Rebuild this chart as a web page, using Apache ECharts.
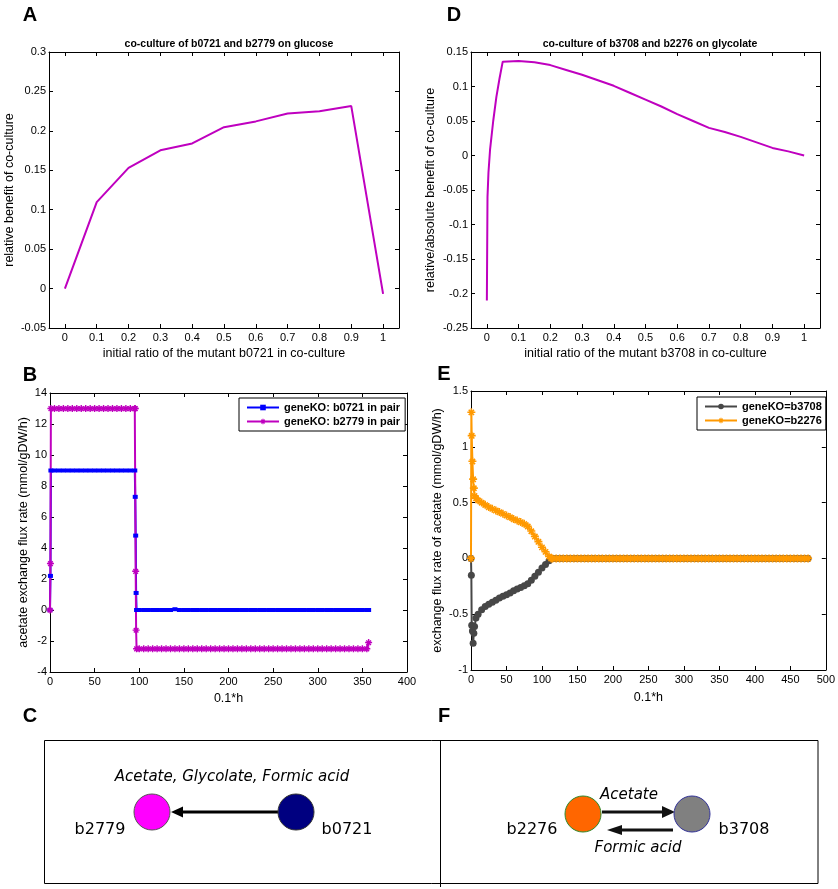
<!DOCTYPE html>
<html lang="en">
<head>
<meta charset="UTF-8">
<title>co-culture benefit and acetate exchange</title>
<script src="https://cdn.jsdelivr.net/npm/echarts@6/dist/echarts.min.js"></script>
<style>
  html, body { margin: 0; padding: 0; background: #fff; }
  #chart { width: 838px; height: 889px; }
</style>
</head>
<body>
<div id="chart"></div>
<script>
// ---- panel A: b0721 / b2779 on glucose ----
const aRatio = [0, 0.1, 0.2, 0.3, 0.4, 0.5, 0.6, 0.7, 0.8, 0.9, 1];
const aBenefit = [0, 0.1097, 0.153, 0.1754, 0.184, 0.2047, 0.212, 0.222, 0.225, 0.2314, -0.0068];

// ---- panel D: b3708 / b2276 on glycolate ----
const dRatio = [0, 0.002, 0.005, 0.01, 0.02, 0.03, 0.04, 0.05, 0.1, 0.15, 0.2, 0.25, 0.3, 0.35,
  0.4, 0.45, 0.5, 0.55, 0.6, 0.65, 0.7, 0.75, 0.8, 0.85, 0.9, 0.95, 1];
const dBenefit = [-0.21, -0.06, -0.025, 0.008, 0.05, 0.085, 0.112, 0.136, 0.137, 0.135, 0.131, 0.124,
  0.117, 0.109, 0.101, 0.091, 0.081, 0.071, 0.060, 0.050, 0.040, 0.034, 0.027, 0.019, 0.011, 0.006, 0];

const ratioTicks = [0, 0.1, 0.2, 0.3, 0.4, 0.5, 0.6, 0.7, 0.8, 0.9, 1];

// ---- panel B: acetate exchange, glucose pair ----
const bTime = [0, 0.5, 1, 5, 10, 15, 20, 25, 30, 35, 40, 45, 50, 55, 60, 65, 70, 75, 80, 85, 90, 95,
  95.5, 96, 96.5, 97,
  100, 105, 110, 115, 120, 125, 130, 135, 140, 145, 150, 155, 160, 165, 170, 175, 180, 185, 190, 195,
  200, 205, 210, 215, 220, 225, 230, 235, 240, 245, 250, 255, 260, 265, 270, 275, 280, 285, 290, 295,
  300, 305, 310, 315, 320, 325, 330, 335, 340, 345, 350, 355, 357];
const bB0721 = [0, 2.2, 9,
  9, 9, 9, 9, 9, 9, 9, 9, 9, 9, 9, 9, 9, 9, 9, 9, 9, 9, 9,
  7.3, 4.8, 1.1, 0,
  0, 0, 0, 0, 0, 0, 0, 0, 0.05, 0, 0, 0, 0, 0, 0, 0, 0, 0, 0, 0,
  0, 0, 0, 0, 0, 0, 0, 0, 0, 0, 0, 0, 0, 0, 0, 0, 0, 0, 0, 0,
  0, 0, 0, 0, 0, 0, 0, 0, 0, 0, 0, 0,
  0];
const bB2779 = [0, 3, 13,
  13, 13, 13, 13, 13, 13, 13, 13, 13, 13, 13, 13, 13, 13, 13, 13, 13, 13, 13,
  13, 2.5, -1.3, -2.5,
  -2.5, -2.5, -2.5, -2.5, -2.5, -2.5, -2.5, -2.5, -2.5, -2.5, -2.5, -2.5, -2.5, -2.5, -2.5, -2.5, -2.5, -2.5, -2.5, -2.5,
  -2.5, -2.5, -2.5, -2.5, -2.5, -2.5, -2.5, -2.5, -2.5, -2.5, -2.5, -2.5, -2.5, -2.5, -2.5, -2.5, -2.5, -2.5, -2.5, -2.5,
  -2.5, -2.5, -2.5, -2.5, -2.5, -2.5, -2.5, -2.5, -2.5, -2.5, -2.5, -2.5,
  -2.1];

// ---- panel E: acetate exchange, glycolate pair ----
const eTime = [0, 0.5, 1, 2, 3, 4, 5, 7,
  10, 15, 20, 25, 30, 35, 40, 45, 50, 55, 60, 65, 70, 75, 80, 85, 90, 95, 100, 105, 110,
  113,
  115, 120, 125, 130, 135, 140, 145, 150, 155, 160, 165, 170, 175, 180, 185, 190, 195,
  200, 205, 210, 215, 220, 225, 230, 235, 240, 245, 250, 255, 260, 265, 270, 275, 280, 285, 290, 295,
  300, 305, 310, 315, 320, 325, 330, 335, 340, 345, 350, 355, 360, 365, 370, 375, 380, 385, 390, 395,
  400, 405, 410, 415, 420, 425, 430, 435, 440, 445, 450, 455, 460, 465, 470, 475];
const eB3708 = [0, -0.15, -0.6, -0.65, -0.76, -0.67, -0.61, -0.535,
  -0.5, -0.46, -0.43, -0.41, -0.394, -0.375, -0.355, -0.34, -0.326, -0.31, -0.29, -0.275, -0.26,
  -0.245, -0.227, -0.195, -0.16, -0.125, -0.087, -0.055, -0.02,
  0,
  0, 0, 0, 0, 0, 0, 0, 0, 0, 0, 0, 0, 0, 0, 0, 0, 0,
  0, 0, 0, 0, 0, 0, 0, 0, 0, 0, 0, 0, 0, 0, 0, 0, 0, 0, 0, 0,
  0, 0, 0, 0, 0, 0, 0, 0, 0, 0, 0, 0, 0, 0, 0, 0, 0, 0, 0, 0,
  0, 0, 0, 0, 0, 0, 0, 0, 0, 0, 0, 0, 0, 0, 0, 0];
const eB2276 = [0, 1.31, 1.1, 0.87, 0.71, 0.63, 0.56, 0.54,
  0.52, 0.5, 0.48, 0.46, 0.445, 0.43, 0.415, 0.4, 0.385, 0.37, 0.352, 0.34, 0.326,
  0.31, 0.287, 0.245, 0.197, 0.15, 0.1, 0.06, 0.018,
  0,
  0, 0, 0, 0, 0, 0, 0, 0, 0, 0, 0, 0, 0, 0, 0, 0, 0,
  0, 0, 0, 0, 0, 0, 0, 0, 0, 0, 0, 0, 0, 0, 0, 0, 0, 0, 0, 0,
  0, 0, 0, 0, 0, 0, 0, 0, 0, 0, 0, 0, 0, 0, 0, 0, 0, 0, 0, 0,
  0, 0, 0, 0, 0, 0, 0, 0, 0, 0, 0, 0, 0, 0, 0, 0];

const FONT = '"Liberation Sans", Arial, Helvetica, sans-serif';
const DIAG_FONT = '"DejaVu Sans", Verdana, sans-serif';
// matlab '*' marker
const STAR = 'path://M0,4L10,4L10,6L0,6Z M4,0L6,0L6,10L4,10Z M1,2.6L2.4,1.2L9,7.8L7.6,9.2Z M7.6,1.2L9,2.6L2.4,9.2L1,7.8Z';

function pairs(xs, ys) {
    return xs.map((x, i) => [x, ys[i]]);
}

function tickStyle(values) {
    let t = { show: true, inside: true, length: 4, lineStyle: { color: '#000', width: 1 } };
    if (values) t.customValues = values;
    return t;
}

// bottom axis with labels + top axis with ticks only (matlab box)
function xAxes(gi, o) {
    let base = {
        type: 'value', gridIndex: gi, min: o.min, max: o.max, interval: o.interval,
        axisLine: { show: true, onZero: false, lineStyle: { color: '#000', width: 1 } },
        axisTick: tickStyle(o.ticks),
        splitLine: { show: false }
    };
    let bottom = Object.assign({}, base, {
        position: 'bottom',
        name: o.name, nameLocation: 'middle', nameGap: o.nameGap,
        nameTextStyle: { fontSize: 12.5, color: '#000', fontFamily: FONT },
        axisLabel: { show: true, margin: 4, fontSize: 11, color: '#000', fontFamily: FONT, customValues: o.ticks }
    });
    let top = Object.assign({}, base, { position: 'top', axisLabel: { show: false } });
    return [bottom, top];
}

function yAxes(gi, o) {
    let base = {
        type: 'value', gridIndex: gi, min: o.min, max: o.max, interval: o.interval,
        axisLine: { show: true, onZero: false, lineStyle: { color: '#000', width: 1 } },
        axisTick: tickStyle(),
        splitLine: { show: false }
    };
    let left = Object.assign({}, base, {
        position: 'left',
        name: o.name, nameLocation: 'middle', nameGap: o.nameGap,
        nameTextStyle: { fontSize: 12.5, color: '#000', fontFamily: FONT },
        axisLabel: { show: true, margin: 3, fontSize: 11, color: '#000', fontFamily: FONT }
    });
    let right = Object.assign({}, base, { position: 'right', axisLabel: { show: false } });
    return [left, right];
}

function letter(t, x, y) {
    return {
        type: 'text', silent: true,
        style: { text: t, x: x, y: y, fill: '#000', fontSize: 20, fontWeight: 'bold', fontFamily: FONT, align: 'center', verticalAlign: 'middle' }
    };
}

function label(t, x, y, italic) {
    return {
        type: 'text', silent: true,
        style: { text: t, x: x, y: y, fill: '#000', fontSize: italic ? 15 : 16, fontStyle: italic ? 'italic' : 'normal', fontFamily: DIAG_FONT, align: 'center', verticalAlign: 'middle' }
    };
}

function node(cx, cy, fill, stroke) {
    return { type: 'circle', silent: true, shape: { cx: cx, cy: cy, r: 18 }, style: { fill: fill, stroke: stroke, lineWidth: 1 } };
}

// horizontal arrow, tip at x2
function arrow(x1, x2, y, headLen, halfH, color, width) {
    let dir = x2 > x1 ? 1 : -1;
    let base = x2 - dir * headLen;
    return [
        { type: 'line', silent: true, shape: { x1: x1, y1: y, x2: base, y2: y }, style: { stroke: color, lineWidth: width } },
        { type: 'polygon', silent: true, shape: { points: [[x2, y], [base, y - halfH], [base, y + halfH]] }, style: { fill: color } }
    ];
}

let graphics = [
    letter('A', 30, 15), letter('D', 454, 15),
    letter('B', 30, 375), letter('E', 444, 374),
    letter('C', 30, 716), letter('F', 444, 716),
    { type: 'rect', silent: true, shape: { x: 44.5, y: 740.5, width: 773.5, height: 143 }, style: { fill: 'none', stroke: '#000', lineWidth: 1 } },
    { type: 'line', silent: true, shape: { x1: 440.5, y1: 740, x2: 440.5, y2: 887 }, style: { stroke: '#000', lineWidth: 1 } },
    // C
    label('Acetate, Glycolate, Formic acid', 232, 777, true),
    ...arrow(278, 171, 812, 12, 5.5, '#000', 3),
    node(152, 812, '#ff00ff', '#555'),
    node(296, 812, '#000080', '#333'),
    label('b2779', 100, 830, false),
    label('b0721', 347, 830, false),
    // F
    ...arrow(602, 675, 812, 13, 6, '#111', 3),
    ...arrow(673, 607, 830, 15, 5, '#111', 3),
    node(583, 814, '#ff6600', '#2e8b2e'),
    node(692, 814, '#808080', '#333399'),
    label('Acetate', 629, 795, true),
    label('Formic acid', 638, 848, true),
    label('b2276', 532, 830, false),
    label('b3708', 744, 830, false)
];

let legendBase = {
    orient: 'vertical', selectedMode: false,
    backgroundColor: '#fff', borderColor: '#000', borderWidth: 1,
    itemWidth: 32, itemHeight: 7, itemGap: 3,
    textStyle: { fontSize: 11, fontWeight: 'bold', color: '#000', fontFamily: FONT }
};

let option = {
    animation: false,
    backgroundColor: '#fff',
    textStyle: { fontFamily: FONT },
    title: [
        { text: 'co-culture of b0721 and b2779 on glucose', left: 224, top: 34, textAlign: 'center',
          textStyle: { fontSize: 10.5, fontWeight: 'bold', color: '#000', fontFamily: FONT } },
        { text: 'co-culture of b3708 and b2276 on glycolate', left: 645, top: 34, textAlign: 'center',
          textStyle: { fontSize: 10.5, fontWeight: 'bold', color: '#000', fontFamily: FONT } }
    ],
    legend: [
        Object.assign({}, legendBase, { data: ['geneKO: b0721 in pair', 'geneKO: b2779 in pair'], left: 239, top: 398, padding: [4, 5, 4, 7] }),
        Object.assign({}, legendBase, { data: ['geneKO=b3708', 'geneKO=b2276'], left: 697, top: 397, padding: [4, 4, 4, 7] })
    ],
    grid: [
        { left: 49, top: 52, width: 350, height: 276 },
        { left: 471, top: 52, width: 349, height: 276 },
        { left: 50, top: 393, width: 357, height: 279 },
        { left: 471, top: 391, width: 356, height: 279 }
    ],
    xAxis: [
        ...xAxes(0, { min: -0.05, max: 1.05, ticks: ratioTicks, name: 'initial ratio of the mutant b0721 in co-culture', nameGap: 19 }),
        ...xAxes(1, { min: -0.05, max: 1.05, ticks: ratioTicks, name: 'initial ratio of the mutant b3708 in co-culture', nameGap: 19 }),
        ...xAxes(2, { min: 0, max: 400, interval: 50, name: '0.1*h', nameGap: 20 }),
        ...xAxes(3, { min: 0, max: 500, interval: 50, name: '0.1*h', nameGap: 21 })
    ],
    yAxis: [
        ...yAxes(0, { min: -0.05, max: 0.3, interval: 0.05, name: 'relative benefit of co-culture', nameGap: 33 }),
        ...yAxes(1, { min: -0.25, max: 0.15, interval: 0.05, name: 'relative/absolute benefit of co-culture', nameGap: 34 }),
        ...yAxes(2, { min: -4, max: 14, interval: 2, name: 'acetate exchange flux rate (mmol/gDW/h)', nameGap: 20 }),
        ...yAxes(3, { min: -1, max: 1.5, interval: 0.5, name: 'exchange flux rate of acetate (mmol/gDW/h)', nameGap: 27 })
    ],
    series: [
        {
            type: 'line', xAxisIndex: 0, yAxisIndex: 0, data: pairs(aRatio, aBenefit),
            symbol: 'none', lineStyle: { color: '#bf00bf', width: 2 }, itemStyle: { color: '#bf00bf' }, silent: true
        },
        {
            type: 'line', xAxisIndex: 2, yAxisIndex: 2, data: pairs(dRatio, dBenefit),
            symbol: 'none', lineStyle: { color: '#bf00bf', width: 2 }, itemStyle: { color: '#bf00bf' }, silent: true
        },
        {
            name: 'geneKO: b0721 in pair', type: 'line', xAxisIndex: 4, yAxisIndex: 4, data: pairs(bTime, bB0721),
            symbol: 'rect', symbolSize: [5, 4], lineStyle: { color: '#0000ff', width: 2 }, itemStyle: { color: '#0000ff' }, silent: true
        },
        {
            name: 'geneKO: b2779 in pair', type: 'line', xAxisIndex: 4, yAxisIndex: 4, data: pairs(bTime, bB2779),
            symbol: STAR, symbolSize: 7, lineStyle: { color: '#bf00bf', width: 2 }, itemStyle: { color: '#bf00bf' }, silent: true
        },
        {
            name: 'geneKO=b3708', type: 'line', xAxisIndex: 6, yAxisIndex: 6, data: pairs(eTime, eB3708),
            symbol: 'circle', symbolSize: 7, lineStyle: { color: '#474747', width: 2 }, itemStyle: { color: '#474747' }, silent: true
        },
        {
            name: 'geneKO=b2276', type: 'line', xAxisIndex: 6, yAxisIndex: 6, data: pairs(eTime, eB2276),
            symbol: STAR, symbolSize: 8, lineStyle: { color: '#ff9900', width: 2 }, itemStyle: { color: '#ff9900' }, silent: true
        }
    ],
    graphic: graphics
};

let myChart = echarts.init(document.getElementById('chart'));
myChart.setOption(option);
</script>
</body>
</html>
